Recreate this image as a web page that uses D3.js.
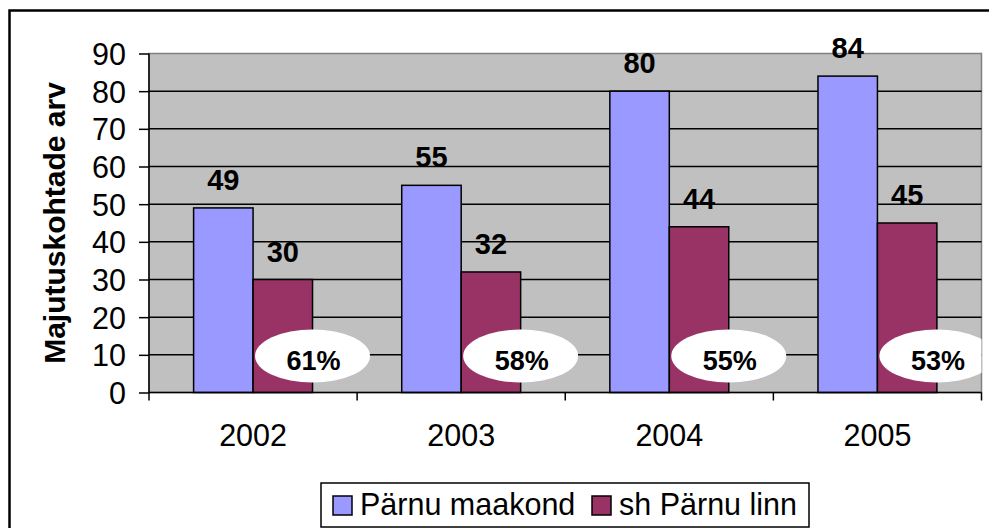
<!DOCTYPE html>
<html>
<head>
<meta charset="utf-8">
<script src="https://cdn.jsdelivr.net/npm/d3@7"></script>
<style>
  body { margin: 0; background: #fff; }
  svg { display: block; font-family: "Liberation Sans", Arial, sans-serif; }
</style>
</head>
<body>
<svg id="chart" width="989" height="528"></svg>
<script>
// data
const years = ["2002", "2003", "2004", "2005"];
const county = [49, 55, 80, 84];     // Pärnu maakond
const city = [30, 32, 44, 45];       // sh Pärnu linn
const shares = ["61%", "58%", "55%", "53%"];
const seriesNames = ["Pärnu maakond", "sh Pärnu linn"];
const seriesColors = ["#9999FF", "#993366"];
const yTicks = [0, 10, 20, 30, 40, 50, 60, 70, 80, 90];

const svg = d3.select("#chart");
const plot = { left: 149, top: 53.5, right: 981.5, bottom: 392.5 };

// outer chart frame (cut off on right and bottom like the picture)
svg.append("rect")
  .attr("x", 9.5).attr("y", 10.5)
  .attr("width", 1000).attr("height", 540)
  .attr("fill", "#fff").attr("stroke", "#000").attr("stroke-width", 2.5);

const x = d3.scaleBand().domain(years).range([plot.left, plot.right]);
const y = d3.scaleLinear().domain([0, 90]).range([plot.bottom, plot.top]);
const barW = x.bandwidth() / 3.5; // gap width 150%

// plot background
svg.append("rect")
  .attr("x", plot.left).attr("y", plot.top)
  .attr("width", plot.right - plot.left).attr("height", plot.bottom - plot.top)
  .attr("fill", "#C0C0C0").attr("stroke", "#808080").attr("stroke-width", 1.5);

svg.append("clipPath").attr("id", "plotClip")
  .append("rect")
  .attr("x", plot.left).attr("y", plot.top)
  .attr("width", plot.right - plot.left).attr("height", plot.bottom - plot.top);

// gridlines
svg.append("g").selectAll("line")
  .data(yTicks.filter(d => d > 0 && d < 90))
  .join("line")
  .attr("x1", plot.left).attr("x2", plot.right)
  .attr("y1", d => y(d)).attr("y2", d => y(d))
  .attr("stroke", "#000").attr("stroke-width", 1.5);

// bars
const groups = svg.append("g").selectAll("g")
  .data(years)
  .join("g")
  .attr("transform", d => `translate(${x(d) + barW * 0.75},0)`);

[county, city].forEach((vals, s) => {
  groups.append("rect")
    .attr("x", s * barW)
    .attr("y", (d, i) => y(vals[i]))
    .attr("width", barW)
    .attr("height", (d, i) => y(0) - y(vals[i]))
    .attr("fill", seriesColors[s])
    .attr("stroke", "#000").attr("stroke-width", 1.5);

  groups.append("text")
    .attr("x", s * barW + barW / 2)
    .attr("y", (d, i) => y(vals[i]) - 18)
    .attr("text-anchor", "middle")
    .attr("font-size", 29).attr("font-weight", "bold")
    .text((d, i) => vals[i]);
});

// share ellipses centred on the right edge of the city bar
const shareG = svg.append("g").attr("clip-path", "url(#plotClip)");
shareG.selectAll("ellipse")
  .data(years)
  .join("ellipse")
  .attr("cx", d => x(d) + barW * 2.75)
  .attr("cy", 356)
  .attr("rx", 57.5).attr("ry", 26.5)
  .attr("fill", "#fff");
shareG.selectAll("text")
  .data(years)
  .join("text")
  .attr("x", d => x(d) + barW * 2.75 + 1)
  .attr("y", 369.5)
  .attr("text-anchor", "middle")
  .attr("font-size", 27).attr("font-weight", "bold")
  .text((d, i) => shares[i]);

// y axis
const yAxis = svg.append("g")
  .attr("transform", `translate(${plot.left},0)`)
  .call(d3.axisLeft(y).tickValues(yTicks).tickSize(10).tickPadding(13));
yAxis.selectAll("line, path").attr("stroke", "#000").attr("stroke-width", 1.5);
yAxis.select(".domain").attr("d", `M0,${plot.top}V${plot.bottom + 8}`);
yAxis.selectAll("text")
  .attr("font-size", 30.5).attr("font-family", "Liberation Sans, Arial, sans-serif")
  .attr("fill", "#000").attr("dy", "0.36em");

// x axis
const xAxis = svg.append("g")
  .attr("transform", `translate(0,${plot.bottom})`)
  .call(d3.axisBottom(x).tickSize(0).tickPadding(32));
xAxis.select(".domain").attr("d", `M${plot.left},0H${plot.right}`)
  .attr("stroke", "#000").attr("stroke-width", 1.5);
xAxis.selectAll("text")
  .attr("font-size", 30.5).attr("font-family", "Liberation Sans, Arial, sans-serif")
  .attr("fill", "#000");
// category separator ticks
xAxis.append("g").selectAll("line")
  .data(years.slice(1).map(d => x(d)).concat([plot.right]))
  .join("line")
  .attr("x1", d => d).attr("x2", d => d)
  .attr("y1", 0).attr("y2", 8)
  .attr("stroke", "#000").attr("stroke-width", 1.5);

// y title
svg.append("text")
  .attr("transform", `translate(65,${(plot.top + plot.bottom) / 2}) rotate(-90)`)
  .attr("text-anchor", "middle")
  .attr("font-size", 30).attr("font-weight", "bold")
  .text("Majutuskohtade arv");

// legend
const legend = svg.append("g");
legend.append("rect")
  .attr("x", 321).attr("y", 483)
  .attr("width", 488).attr("height", 44)
  .attr("fill", "#fff").attr("stroke", "#000").attr("stroke-width", 1.5);
const legendX = [333, 592];
seriesNames.forEach((name, i) => {
  legend.append("rect")
    .attr("x", legendX[i]).attr("y", 496)
    .attr("width", 19).attr("height", 19)
    .attr("fill", seriesColors[i]).attr("stroke", "#000").attr("stroke-width", 1.5);
  legend.append("text")
    .attr("x", legendX[i] + 27).attr("y", 515)
    .attr("font-size", 30.5)
    .text(name);
});
</script>
</body>
</html>
